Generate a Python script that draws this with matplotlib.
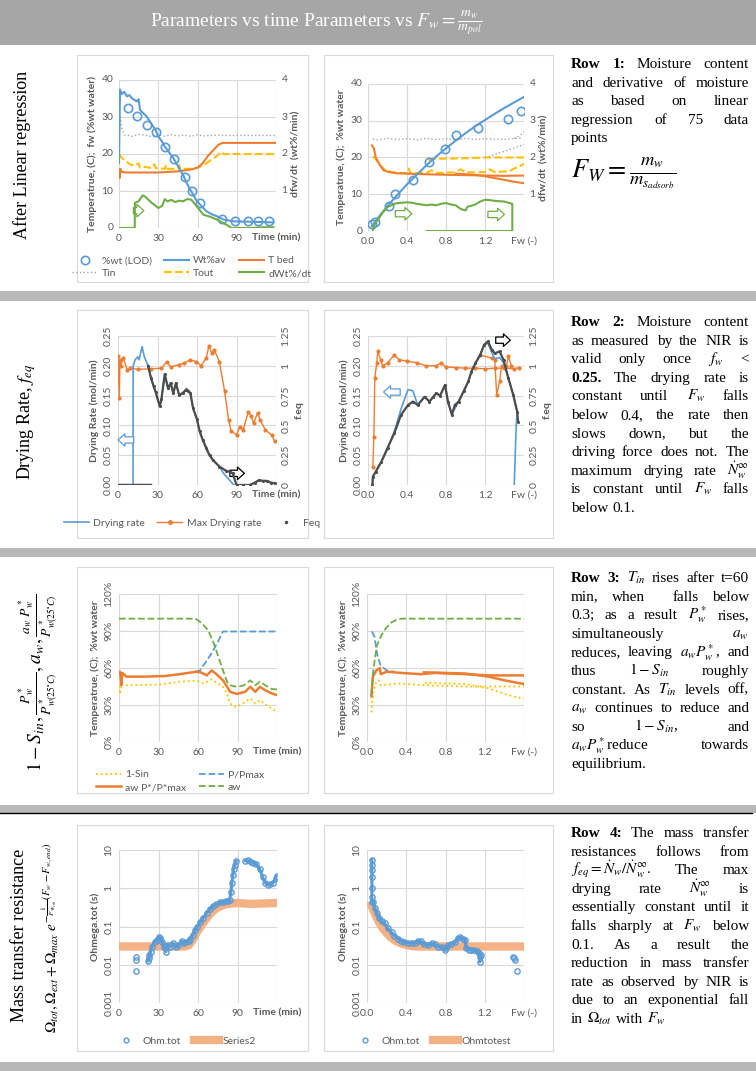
import matplotlib
matplotlib.use('Agg')
import matplotlib.pyplot as plt
from matplotlib.patches import Rectangle
from matplotlib.lines import Line2D
from matplotlib.ticker import NullLocator

# ---------------- data ----------------
# Row 1, vs time
lod_t = [6.6, 14.0, 21.2, 28.0, 34.9, 42.3, 50.2, 56.1, 61.7, 78.5, 88.4, 98.4, 106.0, 114.7]
lod_w = [32.3, 30.4, 27.8, 25.9, 21.9, 18.7, 13.7, 10.1, 6.7, 2.4, 2.0, 2.0, 1.9, 1.8]
wtav_t = [0, 0.8, 2, 4, 6, 8, 10, 12, 13.5, 15, 16, 18, 21, 24, 26, 28, 30, 33, 35, 38, 41.5, 44,
          46.6, 49, 51.7, 54, 56.8, 59, 62, 65, 67, 71, 74.7, 79.8, 87.4, 100, 118]
wtav_w = [17.6, 37.4, 36.2, 36.8, 35.6, 35.9, 35.0, 34.6, 34.2, 34.8, 32.0, 31.2, 30.2, 28.6, 27.5,
          26.4, 24.8, 23.3, 22.0, 20.6, 18.9, 17.4, 15.8, 14.3, 12.2, 10.6, 9.0, 7.6, 6.3, 5.2, 4.5,
          3.7, 3.2, 2.3, 1.8, 1.7, 1.5]
tbed_t = [0, 0.5, 1, 2, 5, 30, 45, 55, 60, 64, 68, 72, 76, 79, 120]
tbed_v = [15.5, 13.5, 16.0, 15.2, 15.0, 15.0, 15.3, 15.8, 16.3, 17.5, 19.5, 21.0, 22.5, 23.0, 23.0]
tin_t = [0, 1, 2, 4, 10, 15, 20, 25, 30, 35, 40, 45, 50, 55, 60, 65, 70, 75, 80, 100, 120]
tin_v = [25, 30, 27, 25.2, 24.8, 25.3, 25.1, 24.7, 25.2, 24.8, 25.2, 24.9, 25.1, 24.8, 25.2, 24.9,
         25.0, 25.1, 25.0, 25.0, 25.0]
tout_t = [0, 2, 5, 8, 12, 15, 16, 20, 25, 27, 28, 35, 36, 37, 45, 46, 47, 55, 60, 65, 70, 75, 78, 80, 120]
tout_v = [20, 19, 18.2, 17.3, 16.8, 17.5, 16.3, 16.5, 16.2, 17.2, 16.2, 16.0, 17.0, 16.0, 16.0, 17.0,
          16.0, 16.0, 16.3, 17.0, 18.3, 19.5, 20.6, 20.0, 20.0]
dw_t = [0, 12, 12.2, 15, 18, 20, 22, 25, 28, 30, 33, 35, 37, 40, 43, 46, 49, 52, 55, 59.4, 64.5,
        70, 74.7, 82, 86, 100, 110, 118]
dw_v = [0, 0, 0.68, 0.72, 0.88, 0.85, 0.78, 0.68, 0.6, 0.54, 0.6, 0.78, 0.72, 0.76, 0.7, 0.74, 0.72,
        0.78, 0.77, 0.59, 0.36, 0.3, 0.23, 0.09, 0.0, 0.0, 0.02, 0.02]

# Row 1, vs Fw
lodf_fw = [0.041, 0.069, 0.22, 0.28, 0.46, 0.63, 0.79, 0.905, 1.13, 1.436, 1.57]
lodf_w = [1.9, 2.5, 6.8, 10.2, 14.0, 18.7, 22.3, 26.2, 28.1, 30.5, 32.7]
wtf_fw = [0.04, 0.1, 0.2, 0.3, 0.4, 0.5, 0.6, 0.7, 0.8, 0.9, 1.0, 1.1, 1.2, 1.3, 1.4, 1.5, 1.6]
wtf_w = [1.3, 3.5, 6.8, 9.8, 12.7, 15.3, 17.9, 20.3, 22.5, 24.6, 26.6, 28.5, 30.2, 31.9, 33.5, 35.0, 36.5]
tinf_fw = [0.05, 0.1, 0.2, 0.3, 0.4, 0.5, 0.6, 0.7, 0.8, 0.9, 1.0, 1.1, 1.2, 1.3, 1.4, 1.5, 1.58]
tinf_v = [25.0, 24.8, 25.2, 24.9, 25.1, 24.8, 25.2, 24.9, 25.1, 24.8, 25.2, 24.9, 25.1, 25.0, 24.9, 25.2, 25.3]
tinf2_fw = [1.2, 1.3, 1.4, 1.5, 1.6]
tinf2_v = [20.0, 20.8, 21.7, 22.6, 23.6]
tinf3_fw = [1.5, 1.55, 1.6]
tinf3_v = [25.2, 25.8, 27.0]
toutf_fw = [0.05, 0.08, 0.12, 0.18, 0.25, 0.3, 0.4, 0.42, 0.43, 0.6, 0.65, 0.7, 0.9, 0.95, 1.0, 1.2,
            1.25, 1.3, 1.45, 1.5, 1.55, 1.6]
toutf_v = [20.3, 19.5, 18.0, 16.5, 16.0, 15.8, 15.8, 17.0, 15.8, 15.8, 16.5, 15.8, 16.0, 16.8, 16.0,
           16.0, 16.8, 16.0, 16.3, 17.0, 17.5, 18.3]
toutf2_fw = [0.62, 0.65, 0.8, 1.0, 1.2, 1.4, 1.6]
toutf2_v = [19.2, 19.6, 19.7, 19.8, 20.0, 20.0, 20.0]
tbedf_fw = [0.04, 0.06, 0.08, 0.12, 0.16, 0.22, 0.3, 0.5, 0.8, 1.0, 1.2, 1.4, 1.6]
tbedf_v = [23.3, 22.5, 20.0, 18.0, 16.5, 16.0, 15.7, 15.5, 15.3, 15.2, 15.1, 15.0, 15.1]
tbedf2_fw = [0.9, 1.1, 1.2, 1.3, 1.4, 1.5, 1.6]
tbedf2_v = [15.6, 15.3, 14.9, 14.4, 13.9, 13.4, 13.0]
dwf_fw = [0.05, 0.06, 0.1, 0.15, 0.2, 0.28, 0.35, 0.4, 0.45, 0.5, 0.55, 0.6, 0.65, 0.7, 0.75, 0.8,
          0.85, 0.9, 0.95, 1.0, 1.02, 1.05, 1.1, 1.15, 1.2, 1.25, 1.3, 1.4, 1.48, 1.48, 0.6]
dwf_v = [0.0, 0.15, 0.3, 0.5, 0.65, 0.75, 0.77, 0.78, 0.77, 0.74, 0.72, 0.7, 0.72, 0.7, 0.74, 0.76,
         0.72, 0.7, 0.6, 0.56, 0.66, 0.68, 0.72, 0.8, 0.85, 0.84, 0.82, 0.8, 0.74, 0.0, 0.0]

# Row 2, vs time  (drying rates in mol/min, feq on its own axis)
dr_t = [0, 11.4, 11.5, 13, 15, 16, 18.3, 20, 22.8, 25, 27, 28.6, 31.7, 33, 35.5, 38, 40, 42, 44,
        46.4, 49, 52, 53, 55, 57, 60, 62, 64.5, 67, 69.5, 72, 77, 80, 84, 88, 95, 100, 104, 107,
        110, 113, 116, 119]
dr_v = [0, 0, 0.2, 0.21, 0.215, 0.21, 0.232, 0.215, 0.2, 0.18, 0.166, 0.156, 0.132, 0.144, 0.186,
        0.162, 0.171, 0.154, 0.171, 0.151, 0.154, 0.162, 0.16, 0.154, 0.129, 0.11, 0.09, 0.075,
        0.062, 0.05, 0.042, 0.031, 0.02, 0.01, 0.0, 0.0, 0.0, 0.004, 0.008, 0.007, 0.007, 0.004, 0.003]
feq0_t = [0, 24]
feq0_v = [0, 0]
feq_t = [22.9, 25, 27, 28.6, 31.7, 33, 35.5, 38, 40, 42, 44, 46.4, 49, 52, 53, 55, 57,
         60, 62, 64.5, 67, 69.5, 72, 77, 82, 85, 87, 90, 95, 100, 104, 107, 110, 113, 116, 119]
feq_v = [1.0, 0.9, 0.83, 0.78, 0.66, 0.72, 0.93, 0.81, 0.855, 0.77, 0.855, 0.755, 0.77, 0.8,
         0.79, 0.77, 0.645, 0.55, 0.45, 0.375, 0.31, 0.25, 0.21, 0.155, 0.12, 0.11, 0.1, 0.0, 0.0,
         0.0, 0.02, 0.04, 0.035, 0.035, 0.02, 0.015]
mdr_t = [0, 1, 1.5, 2, 4, 7, 9, 15, 25, 33, 37, 40, 46, 50, 54.5, 59.6, 63, 67, 69, 71.3, 73, 77,
         81, 84, 86, 90, 92.6, 95, 99, 101, 103, 106, 108, 112, 116.7, 119]
mdr_v = [0.216, 0.146, 0.21, 0.2, 0.213, 0.193, 0.196, 0.194, 0.195, 0.196, 0.207, 0.198, 0.202,
         0.204, 0.21, 0.207, 0.2, 0.213, 0.233, 0.221, 0.227, 0.207, 0.157, 0.109, 0.09, 0.084,
         0.098, 0.092, 0.123, 0.115, 0.104, 0.121, 0.109, 0.092, 0.084, 0.073]

# Row 2, vs Fw
feqf_fw = [0.045, 0.05, 0.078, 0.137, 0.2, 0.27, 0.34, 0.41, 0.46, 0.51, 0.58, 0.63, 0.67, 0.7,
           0.74, 0.79, 0.82, 0.86, 0.89, 0.93, 0.98, 1.03, 1.06, 1.1, 1.15, 1.19, 1.23, 1.27, 1.3,
           1.35, 1.39, 1.44, 1.49, 1.53, 1.54]
feqf_v = [0.0, 0.07, 0.11, 0.195, 0.31, 0.435, 0.59, 0.67, 0.7, 0.67, 0.74, 0.7, 0.74, 0.77, 0.75,
          0.84, 0.7, 0.59, 0.67, 0.7, 0.785, 0.87, 0.95, 1.02, 1.09, 1.175, 1.205, 1.135, 1.105,
          1.12, 1.05, 0.895, 0.755, 0.615, 0.53]
drf_fw = [0.045, 0.05, 0.078, 0.137, 0.2, 0.27, 0.34, 0.41, 0.46, 0.51, 0.58, 0.63, 0.67, 0.7,
          0.74, 0.79, 0.82, 0.86, 0.89, 0.93, 0.98, 1.03, 1.06, 1.1, 1.15, 1.19, 1.23, 1.27, 1.3,
          1.35, 1.39, 1.44, 1.49, 1.53, 1.52, 1.5]
drf_v = [0.0, 0.014, 0.022, 0.039, 0.06, 0.09, 0.128, 0.16, 0.158, 0.134, 0.148, 0.14, 0.148,
         0.154, 0.15, 0.168, 0.14, 0.118, 0.128, 0.14, 0.157, 0.174, 0.19, 0.204, 0.218, 0.235,
         0.238, 0.222, 0.212, 0.214, 0.205, 0.179, 0.151, 0.123, 0.1, 0.0]
mdrf_fw = [0.05, 0.06, 0.07, 0.09, 0.1, 0.13, 0.15, 0.2, 0.27, 0.32, 0.4, 0.5, 0.6, 0.7, 0.75,
           0.8, 0.9, 1.0, 1.1, 1.2, 1.3, 1.4, 1.5, 1.55]
mdrf_v = [0.03, 0.08, 0.18, 0.205, 0.224, 0.21, 0.2, 0.205, 0.218, 0.21, 0.208, 0.205, 0.2, 0.2,
          0.205, 0.198, 0.197, 0.196, 0.196, 0.195, 0.196, 0.196, 0.195, 0.197]
mdrf2_fw = [1.15, 1.27, 1.3, 1.32, 1.35, 1.37, 1.42, 1.44, 1.47]
mdrf2_v = [0.218, 0.213, 0.21, 0.151, 0.174, 0.2, 0.2, 0.216, 0.2]

# Row 3, vs time (fractions)
sin_t = [0, 0.8, 2, 5.6, 31, 46, 59, 64, 70.4, 74, 79, 82, 84.4, 88, 92, 95.8, 99.7, 103.5, 107, 112, 116, 120]
sin_v = [0.46, 0.39, 0.475, 0.46, 0.465, 0.489, 0.497, 0.475, 0.508, 0.48, 0.448, 0.394, 0.312,
         0.285, 0.299, 0.326, 0.353, 0.312, 0.339, 0.299, 0.27, 0.244]
pp_t = [58, 61.5, 66, 70.4, 75, 79, 120]
pp_v = [0.57, 0.58, 0.65, 0.72, 0.81, 0.896, 0.896]
awp_t = [0, 0.8, 1.8, 2.5, 5.6, 20, 35, 46, 59, 62, 66.6, 70.4, 74, 79, 82, 84.4, 89.5, 95.8,
         99.7, 103.5, 107, 111, 116, 120]
awp_v = [0.557, 0.57, 0.46, 0.56, 0.53, 0.53, 0.535, 0.55, 0.57, 0.565, 0.54, 0.58, 0.55, 0.50,
         0.45, 0.407, 0.39, 0.407, 0.448, 0.407, 0.448, 0.42, 0.394, 0.38]
aw_t = [0, 58, 61, 64, 68, 72, 75.5, 79, 82, 84.4, 88, 91, 95, 99.7, 103.5, 107, 111, 116, 120]
aw_v = [1.0, 1.0, 0.98, 0.95, 0.9, 0.8, 0.69, 0.58, 0.49, 0.46, 0.45, 0.45, 0.46, 0.5, 0.46,
        0.49, 0.46, 0.43, 0.426]

# Row 3, vs Fw
sinf_fw = [0.045, 0.06, 0.095, 0.12, 0.14, 0.32, 0.59, 1.0, 1.6]
sinf_v = [0.24, 0.39, 0.49, 0.5, 0.46, 0.475, 0.46, 0.45, 0.45]
sinf2_fw = [0.59, 1.0, 1.24, 1.44, 1.6]
sinf2_v = [0.48, 0.47, 0.435, 0.38, 0.35]
ppf_fw = [0.05, 0.078, 0.095, 0.11, 0.14, 0.2, 0.28]
ppf_v = [0.896, 0.85, 0.75, 0.69, 0.62, 0.58, 0.57]
awpf_fw = [0.045, 0.06, 0.095, 0.13, 0.14, 0.2, 0.35, 0.55, 0.69, 1.0, 1.24, 1.6]
awpf_v = [0.37, 0.53, 0.58, 0.6, 0.55, 0.57, 0.56, 0.55, 0.56, 0.55, 0.54, 0.54]
awpf2_fw = [0.58, 0.8, 1.0, 1.24, 1.4, 1.6]
awpf2_v = [0.565, 0.56, 0.555, 0.53, 0.50, 0.47]
awf_fw = [0.045, 0.06, 0.078, 0.1, 0.15, 0.2, 0.25, 0.3, 0.35, 1.6]
awf_v = [0.38, 0.55, 0.66, 0.78, 0.87, 0.93, 0.97, 0.99, 1.0, 1.0]

# Row 4, vs time (three separate runs of points)
ohm_a_t = [12.7, 12.7, 12.7]
ohm_a_v = [0.016, 0.0137, 0.007]
ohm_b_t = [22, 22.5, 23, 24, 25, 27, 28.5, 30, 31.5, 33, 34, 35.6, 37, 39, 41, 43, 45, 47.5, 49,
           51, 53, 54, 56, 57.7, 59.5, 61.5, 64, 66.6, 69, 71.7, 74, 76.8, 79, 81, 83, 84, 85,
           85.7, 86.5, 87, 88, 89]
ohm_b_v = [0.0125, 0.015, 0.018, 0.022, 0.03, 0.04, 0.044, 0.053, 0.05, 0.039, 0.03, 0.022, 0.032,
           0.03, 0.036, 0.029, 0.033, 0.041, 0.038, 0.039, 0.042, 0.048, 0.06, 0.079, 0.1, 0.13,
           0.17, 0.23, 0.28, 0.35, 0.38, 0.43, 0.44, 0.46, 0.47, 0.5, 0.8, 1.4, 2.2, 3.1, 4.0, 5.1]
ohm_c_t = [96, 98, 100, 102, 104, 107, 109, 111, 113, 115, 117, 119, 120]
ohm_c_v = [5.3, 5.4, 5.0, 4.6, 4.4, 3.1, 2.0, 1.4, 1.25, 1.27, 1.4, 1.8, 2.1]
ser2_t = [0, 10, 20, 30, 40, 50, 53, 56, 59, 62, 65, 68, 71, 74, 77, 80, 83, 86, 90, 100, 110, 120]
ser2_v = [0.03, 0.03, 0.03, 0.03, 0.03, 0.03, 0.032, 0.045, 0.07, 0.1, 0.14, 0.19, 0.25, 0.3,
          0.34, 0.37, 0.39, 0.4, 0.41, 0.39, 0.4, 0.41]

# Row 4, vs Fw
ohmf_a_fw = [0.05, 0.05, 0.05, 0.05, 0.05, 0.05, 0.052, 0.06, 0.08, 0.1, 0.12, 0.15, 0.18, 0.21,
             0.25, 0.28, 0.32, 0.35, 0.38, 0.42, 0.46, 0.49, 0.52, 0.55, 0.58, 0.62, 0.66, 0.69,
             0.72, 0.76, 0.79, 0.81, 0.83, 0.86, 0.9, 0.93, 0.95, 0.98, 1.0, 1.01, 1.04, 1.06,
             1.09, 1.12, 1.14, 1.15, 1.15, 1.16]
ohmf_a_v = [5.5, 4, 3, 2, 1, 0.6, 0.45, 0.43, 0.3, 0.23, 0.17, 0.14, 0.12, 0.09, 0.07, 0.058,
            0.048, 0.042, 0.039, 0.037, 0.038, 0.038, 0.041, 0.041, 0.035, 0.032, 0.036, 0.034,
            0.03, 0.029, 0.024, 0.028, 0.032, 0.035, 0.039, 0.05, 0.052, 0.048, 0.045, 0.027,
            0.025, 0.024, 0.024, 0.023, 0.02, 0.016, 0.012, 0.018]
ohmf_b_fw = [1.49, 1.5, 1.51, 1.53]
ohmf_b_v = [0.016, 0.015, 0.013, 0.007]
otest_fw = [0.03, 0.05, 0.08, 0.1, 0.13, 0.16, 0.2, 0.25, 0.3, 0.35, 0.4, 0.45, 0.5, 0.6, 0.8,
            1.0, 1.2, 1.4, 1.6]
otest_v = [0.45, 0.33, 0.22, 0.17, 0.12, 0.09, 0.068, 0.05, 0.041, 0.036, 0.033, 0.031, 0.03,
           0.03, 0.03, 0.03, 0.03, 0.03, 0.03]

# text
title = r'Parameters vs time Parameters vs $F_w=\frac{m_w}{m_{pol}}$'
row_labels = ['After Linear regression', r'Drying Rate, $f_{eq}$',
              r'$1-S_{in},\frac{P_w^*}{P^*_{w(25^{\circ}C)}},a_w,\frac{a_w\ P_w^*}{P^*_{w(25^{\circ}C)}}$',
              'Mass transfer resistance']
row4_formula = r'$\Omega_{tot},\Omega_{ext}+\Omega_{max}\ e^{-\frac{1}{F_{W_{crit}}}(F_w-F_{w,end})}$'
para1 = ['**Row **1: Moisture content', 'and derivative of moisture', 'as based on linear',
         'regression of 75 data', 'points']
para2 = ['**Row **2: Moisture content', 'as measured by the NIR is', 'valid only once $f_w$ <',
         '**0.25. The drying rate is', 'constant until $F_w$ falls', 'below 0.4, the rate then',
         'slows down, but the', 'driving force does not. The', r'maximum drying rate $\dot{N}_w^{\infty}$',
         'is constant until $F_w$ falls', 'below 0.1.']
para3 = ['**Row **3: $T_{in}$ rises after t=60', 'min, when  falls below',
         '0.3; as a result $P_w^*$ rises,', 'simultaneously $a_w$', 'reduces, leaving $a_wP_w^*$, and',
         'thus $1-S_{in}$ roughly', 'constant. As $T_{in}$ levels off,', '$a_w$ continues to reduce and',
         'so $1-S_{in}$, and', '$a_wP_w^*$reduce towards', 'equilibrium.']
para4 = ['**Row **4: The mass transfer', 'resistances follows from',
         r'$f_{eq}=\dot{N}_w/\dot{N}_w^{\infty}$. The max', r'drying rate $\dot{N}_w^{\infty}$ is',
         'essentially constant until it', 'falls sharply at $F_w$ below', '0.1. As a result the',
         'reduction in mass transfer', 'rate as observed by NIR is', 'due to an exponential fall',
         r'in $\Omega_{tot}$ with $F_w$']

# ---------------- drawing ----------------
W, H = 756, 1071
BLUE = '#5B9BD5'
ORANGE = '#ED7D31'
GRAY = '#A5A5A5'
YELLOW = '#FFC000'
GREEN = '#70AD47'
DARK = '#4D4D4D'
PEACH = '#F4B183'
TXT = '#595959'
SERIF = 'Liberation Serif'

plt.rcParams['font.family'] = ['Lato', 'DejaVu Sans']
plt.rcParams['mathtext.fontset'] = 'stix'

fig = plt.figure(figsize=(W / 100, H / 100), dpi=100)


def px_rect(x0, y0, x1, y1):
    return [x0 / W, 1 - y1 / H, (x1 - x0) / W, (y1 - y0) / H]


def fig_box(x0, y0, x1, y1, fc, ec='none', lw=0.0):
    fig.patches.append(Rectangle((x0 / W, 1 - y1 / H), (x1 - x0) / W, (y1 - y0) / H,
                                 transform=fig.transFigure, fc=fc, ec=ec, lw=lw, zorder=-1))


def base_axes(rect, time_axis):
    ax = fig.add_axes(rect)
    if time_axis:
        ax.set_xlim(0, 120)
        ax.set_xticks([0, 30, 60, 90, 120])
        ax.set_xticklabels(['0', '30', '60', '90', 'Time (min)'])
        ax.get_xticklabels()[-1].set_fontweight('bold')
    else:
        ax.set_xlim(0, 1.6)
        ax.set_xticks([0, 0.4, 0.8, 1.2, 1.6])
        ax.set_xticklabels(['0.0', '0.4', '0.8', '1.2', 'Fw (-)'])
    ax.grid(True, color='#D9D9D9', lw=0.8)
    ax.set_axisbelow(True)
    for s in ax.spines.values():
        s.set_visible(False)
    ax.tick_params(length=0, labelsize=7.5, labelcolor=TXT, pad=4)
    return ax


def y_axis(ax, lim, ticks, labels, rot=0, label=None):
    ax.set_ylim(lim)
    ax.set_yticks(ticks)
    ax.set_yticklabels(labels, rotation=rot, va='center')
    if label:
        ax.set_ylabel(label, fontsize=7.5, fontweight='bold', color=TXT, labelpad=3)


def twin(ax):
    ax2 = ax.twinx()
    for s in ax2.spines.values():
        s.set_visible(False)
    ax2.tick_params(length=0, labelsize=7.5, labelcolor=TXT, pad=4)
    return ax2


def arrow(ax, x0, x1, y, color):
    ax.annotate('', xy=(x1, y), xytext=(x0, y),
                arrowprops=dict(arrowstyle='simple,head_length=0.5,head_width=0.9,tail_width=0.45',
                                fc='white', ec=color, lw=0.9, shrinkA=0, shrinkB=0))


def legend(ax, handles, labels, cx, cy, ncol):
    leg = ax.legend(handles, labels, loc='center', bbox_to_anchor=(cx / W, 1 - cy / H),
                    bbox_transform=fig.transFigure, ncol=ncol, frameon=False, fontsize=7.5,
                    handlelength=2.4, columnspacing=1.2, labelspacing=0.35, handletextpad=0.4)
    for t in leg.get_texts():
        t.set_color(TXT)


def paragraph(lines, x0, x1, y0, dy, size=11):
    r = fig.canvas.get_renderer()
    for i, line in enumerate(lines):
        y = 1 - (y0 + i * dy) / H
        items = []
        for w in line.split(' '):
            if w == '':
                items.append((None, 0.0))
                continue
            bold = w.startswith('**')
            s = w[2:] if bold else w
            t = fig.text(0, y, s, fontsize=size, family=SERIF, va='baseline',
                         fontweight='bold' if bold else 'normal')
            items.append((t, t.get_window_extent(r).width))
        total = sum(wd for _, wd in items)
        if i == len(lines) - 1 or len(items) == 1:
            gap = size * 100 / 72 * 0.25
        else:
            gap = (x1 - x0 - total) / (len(items) - 1)
        x = x0
        for t, wd in items:
            if t is not None:
                t.set_x(x / W)
            x += wd + gap


def ohm_points(ax, xs, ys, joined):
    ax.plot(xs, ys, color=BLUE, lw=2.2 if joined else 0, ls='-' if joined else 'none',
            marker='o', mfc='none', mec=BLUE, ms=3.8, mew=1)


# bands
fig_box(0, 0, W, 45, '#A6A6A6')
for y0, y1 in [(291, 301), (548, 557), (805, 813), (1062, H)]:
    fig_box(0, y0, W, y1, '#B8B8B8')
fig.add_artist(Line2D([0, 0.995], [1 - 813 / H, 1 - 813 / H], color='black', lw=1.0,
                      transform=fig.transFigure))
fig.text(316 / W, 1 - 23 / H, title, color='white', fontsize=14, family=SERIF, ha='center', va='center')

# chart frames
for top, bot in [(55, 282), (310, 538), (567, 793), (825, 1051)]:
    fig_box(77, top, 308, bot, 'white', '#D9D9D9', 0.8)
    fig_box(324, top, 553, bot, 'white', '#D9D9D9', 0.8)

# ---- row 1 ----
ax = base_axes(px_rect(119, 80, 276, 228), True)
y_axis(ax, (0, 40), [0, 10, 20, 30, 40], ['0', '10', '20', '30', '40'],
       label='Temperatrue, (C);  fw (%wt water)')
ax.plot(tin_t, tin_v, color=GRAY, ls=':', lw=1)
ax.plot(tout_t, tout_v, color=YELLOW, ls='--', lw=1.5)
ax.plot(tbed_t, tbed_v, color=ORANGE, lw=1.5)
ax.plot(wtav_t, wtav_w, color=BLUE, lw=1.5)
ax.plot(lod_t, lod_w, ls='none', marker='o', mfc='none', mec=BLUE, ms=6, mew=1.2)
ax2 = twin(ax)
y_axis(ax2, (0, 4), [1, 2, 3, 4], ['1', '2', '3', '4'], label='dfw/dt  (wt%/min)')
ax2.plot(dw_t, dw_v, color=GREEN, lw=1.5)
arrow(ax, 11, 19, 4.7, GREEN)
h = [Line2D([], [], ls='none', marker='o', mfc='none', mec=BLUE, ms=6, mew=1.2),
     Line2D([], [], color=GRAY, ls=':', lw=1),
     Line2D([], [], color=BLUE, lw=1.5),
     Line2D([], [], color=YELLOW, ls='--', lw=1.5),
     Line2D([], [], color=ORANGE, lw=1.5),
     Line2D([], [], color=GREEN, lw=1.5)]
legend(ax, h, ['%wt (LOD)', 'Tin', 'Wt%av', 'Tout', 'T bed', 'dWt%/dt'], 192, 267, 3)

ax = base_axes(px_rect(368, 84, 524, 231), False)
y_axis(ax, (0, 40), [0, 10, 20, 30, 40], ['0', '10', '20', '30', '40'],
       label='Temperatrue, (C);  %wt water')
ax.plot(tinf_fw, tinf_v, color=GRAY, ls=':', lw=1)
ax.plot(tinf2_fw, tinf2_v, color=GRAY, ls=':', lw=1)
ax.plot(tinf3_fw, tinf3_v, color=GRAY, ls=':', lw=1)
ax.plot(toutf_fw, toutf_v, color=YELLOW, ls='--', lw=1.5)
ax.plot(toutf2_fw, toutf2_v, color=YELLOW, ls='--', lw=1.5)
ax.plot(tbedf_fw, tbedf_v, color=ORANGE, lw=1.5)
ax.plot(tbedf2_fw, tbedf2_v, color=ORANGE, lw=1.5)
ax.plot(wtf_fw, wtf_w, color=BLUE, lw=1.5)
ax.plot(lodf_fw, lodf_w, ls='none', marker='o', mfc='none', mec=BLUE, ms=6, mew=1.2)
ax2 = twin(ax)
y_axis(ax2, (0, 4), [1, 2, 3, 4], ['1', '2', '3', '4'], label='dfw/dt  (wt%/min)')
ax2.plot(dwf_fw, dwf_v, color=GREEN, lw=1.5)
arrow(ax, 0.28, 0.45, 4.7, GREEN)
arrow(ax, 1.23, 1.40, 4.5, GREEN)

# ---- row 2 ----
rate_ticks = [0, 0.05, 0.1, 0.15, 0.2, 0.25]
rate_labels = ['0.00', '0.05', '0.10', '0.15', '0.20', '0.25']
feq_ticks = [0, 0.25, 0.5, 0.75, 1, 1.25]
feq_labels = ['0', '0.25', '0.5', '0.75', '1', '1.25']

ax = base_axes(px_rect(118, 336, 276, 485), True)
y_axis(ax, (0, 0.25), rate_ticks, rate_labels, 90, 'Drying Rate (mol/min)')
ax.plot(mdr_t, mdr_v, color=ORANGE, lw=1, marker='o', ms=2)
ax.plot(dr_t, dr_v, color=BLUE, lw=1.2)
ax2 = twin(ax)
y_axis(ax2, (0, 1.25), feq_ticks, feq_labels, 90, 'f.eq')
ax2.plot(feq0_t, feq0_v, color=DARK, lw=2.5)
ax2.plot(feq_t, feq_v, color=DARK, lw=1.6, marker='.', ms=2.5)
arrow(ax, 12, 0, 0.0756, BLUE)
arrow(ax, 85, 96, 0.0196, 'black')
h = [Line2D([], [], color=BLUE, lw=1.2),
     Line2D([], [], color=ORANGE, lw=1, marker='o', ms=2.5),
     Line2D([], [], color=DARK, ls='none', marker='.', ms=3)]
legend(ax, h, ['Drying rate', 'Max Drying rate', 'Feq'], 192, 523, 3)

ax = base_axes(px_rect(368, 336, 524, 485), False)
y_axis(ax, (0, 0.25), rate_ticks, rate_labels, 90, 'Drying Rate (mol/min)')
ax.plot(mdrf_fw, mdrf_v, color=ORANGE, lw=1, marker='o', ms=2)
ax.plot(mdrf2_fw, mdrf2_v, color=ORANGE, lw=1, marker='o', ms=2)
ax.plot(drf_fw, drf_v, color=BLUE, lw=1.2)
ax2 = twin(ax)
y_axis(ax2, (0, 1.25), feq_ticks, feq_labels, 90, 'f.eq')
ax2.plot(feqf_fw, feqf_v, color=DARK, lw=1.6, marker='.', ms=2.5)
arrow(ax, 0.33, 0.16, 0.156, BLUE)
arrow(ax, 1.31, 1.46, 0.243, 'black')

# ---- row 3 ----
pct_ticks = [0, 0.3, 0.6, 0.9, 1.2]
pct_labels = ['0%', '30%', '60%', '90%', '120%']
ax = base_axes(px_rect(119, 594, 277, 742), True)
y_axis(ax, (0, 1.2), pct_ticks, pct_labels, 90, 'Temperatrue, (C);  %wt water')
ax.plot(sin_t, sin_v, color=YELLOW, ls=':', lw=1.3)
ax.plot(pp_t, pp_v, color=BLUE, ls='--', lw=1.3)
ax.plot(awp_t, awp_v, color=ORANGE, lw=1.8)
ax.plot(aw_t, aw_v, color=GREEN, ls='--', lw=1.3)
h = [Line2D([], [], color=YELLOW, ls=':', lw=1.3),
     Line2D([], [], color=ORANGE, lw=1.8),
     Line2D([], [], color=BLUE, ls='--', lw=1.3),
     Line2D([], [], color=GREEN, ls='--', lw=1.3)]
legend(ax, h, ['1-Sin', 'aw P*/P*max', 'P/Pmax', 'aw'], 180, 781, 2)

ax = base_axes(px_rect(367, 594, 524, 742), False)
y_axis(ax, (0, 1.2), pct_ticks, pct_labels, 90, 'Temperatrue, (C);  %wt water')
ax.plot(sinf_fw, sinf_v, color=YELLOW, ls=':', lw=1.3)
ax.plot(sinf2_fw, sinf2_v, color=YELLOW, ls=':', lw=1.3)
ax.plot(ppf_fw, ppf_v, color=BLUE, ls='--', lw=1.3)
ax.plot(awpf_fw, awpf_v, color=ORANGE, lw=1.8)
ax.plot(awpf2_fw, awpf2_v, color=ORANGE, lw=1.8)
ax.plot(awf_fw, awf_v, color=GREEN, ls='--', lw=1.3)

# ---- row 4 ----
log_ticks = [0.001, 0.01, 0.1, 1, 10]
log_labels = ['0.001', '0.01', '0.1', '1', '10']
for kind in ('t', 'f'):
    if kind == 't':
        ax = base_axes(px_rect(119, 850, 277, 1003), True)
    else:
        ax = base_axes(px_rect(367, 850, 524, 1003), False)
    ax.set_yscale('log')
    ax.yaxis.set_minor_locator(NullLocator())
    y_axis(ax, (0.001, 10), log_ticks, log_labels, 90, 'Ohmega.tot (s)')
    if kind == 't':
        ax.plot(ser2_t, ser2_v, color=PEACH, lw=6, solid_capstyle='butt')
        ohm_points(ax, ohm_a_t, ohm_a_v, False)
        ohm_points(ax, ohm_b_t, ohm_b_v, True)
        ohm_points(ax, ohm_c_t, ohm_c_v, True)
        names = ['Ohm.tot', 'Series2']
        cx = 185
    else:
        ax.plot(otest_fw, otest_v, color=PEACH, lw=6, solid_capstyle='butt')
        ohm_points(ax, ohmf_a_fw, ohmf_a_v, True)
        ohm_points(ax, ohmf_b_fw, ohmf_b_v, False)
        names = ['Ohm.tot', 'Ohmtotest']
        cx = 432
    h = [Line2D([], [], ls='none', marker='o', mfc='none', mec=BLUE, ms=3.5, mew=1),
         Line2D([], [], color=PEACH, lw=6)]
    legend(ax, h, names, cx, 1041, 2)

# ---- left labels ----
fig.text(22 / W, 1 - 155 / H, row_labels[0], rotation=90, ha='center', va='center', family=SERIF, fontsize=13)
fig.text(27 / W, 1 - 422 / H, row_labels[1], rotation=90, ha='center', va='center', family=SERIF, fontsize=13)
fig.text(38 / W, 1 - 683 / H, row_labels[2], rotation=90, ha='center', va='center', family=SERIF, fontsize=14)
fig.text(20 / W, 1 - 935 / H, row_labels[3], rotation=90, ha='center', va='center', family=SERIF, fontsize=13)
fig.text(50 / W, 1 - 938 / H, row4_formula, rotation=90, ha='center', va='center', family=SERIF, fontsize=11)

# ---- right-hand text ----
paragraph(para1, 571, 749, 68, 18.6)
fig.text(571 / W, 1 - 173 / H, r'$F_W=\frac{m_w}{m_{s_{adsorb}}}$', fontsize=19, family=SERIF, va='center')
paragraph(para2, 571, 749, 326, 18.6)
paragraph(para3, 571, 749, 582, 18.6)
paragraph(para4, 571, 749, 837, 18.6)

fig.savefig('out.png', dpi=100)
